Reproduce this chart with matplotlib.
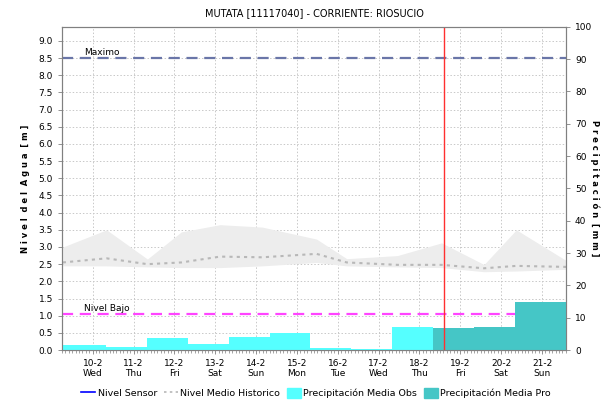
import numpy as np
import matplotlib
matplotlib.use("Agg")
import matplotlib.pyplot as plt
from matplotlib.lines import Line2D
from matplotlib.patches import Patch

# days shown on the x axis (position 0 = 10-2)
day_labels = ["10-2", "11-2", "12-2", "13-2", "14-2", "15-2", "16-2", "17-2",
              "18-2", "19-2", "20-2", "21-2"]
weekdays = ["Wed", "Thu", "Fri", "Sat", "Sun", "Mon", "Tue", "Wed", "Thu",
            "Fri", "Sat", "Sun"]

# historic band and mean level [m]
hist_x = [-0.73, 0.34, 1.34, 2.17, 3.12, 4.15, 5.48, 6.22, 7.46, 8.54, 9.58, 10.37, 11.6]
hist_max = [3.0, 3.5, 2.65, 3.44, 3.65, 3.58, 3.23, 2.66, 2.75, 3.12, 2.49, 3.5, 2.6]
hist_min = [2.45, 2.45, 2.42, 2.4, 2.4, 2.45, 2.55, 2.45, 2.42, 2.4, 2.28, 2.3, 2.35]
hist_mean = [2.55, 2.67, 2.5, 2.55, 2.72, 2.7, 2.8, 2.55, 2.48, 2.48, 2.38, 2.45, 2.42]

# daily precipitation [mm], bar edges in day units
obs_edges = [-0.73, 0.33, 1.33, 2.33, 3.33, 4.33, 5.33, 6.33, 7.33, 8.33]
obs_mm = [1.5, 0.8, 3.6, 1.8, 3.9, 5.4, 0.5, 0.4, 7.1]
pro_edges = [8.33, 9.33, 10.33, 11.6]
pro_mm = [6.7, 7.1, 15.0]

nivel_max = 8.5
nivel_bajo = 1.05
now_x = 8.59

fig = plt.figure(figsize=(6.02, 4.07), dpi=100)
ax = fig.add_axes([0.103, 0.140, 0.837, 0.794])
ax2 = ax.twinx()

ax.fill_between(hist_x, hist_min, hist_max, color="#ededed", lw=0, zorder=1)
ax.plot(hist_x, hist_mean, ls=(0, (1.5, 2)), color="#b8b8b8", lw=1.5, zorder=2)

ax.axhline(nivel_max, color="#6a76a8", ls=(0, (5, 3)), lw=1.6, zorder=3)
ax.axhline(nivel_bajo, color="#ff44ff", ls=(0, (5, 3)), lw=1.6, zorder=3)
ax.text(-0.22, nivel_max + 0.02, "Maximo", fontsize=6.5, va="bottom")
ax.text(-0.22, nivel_bajo + 0.02, "Nivel Bajo", fontsize=6.5, va="bottom")

ax2.bar(obs_edges[:-1], obs_mm, width=np.diff(obs_edges), align="edge",
        color="#55ffff", lw=0)
ax2.bar(pro_edges[:-1], pro_mm, width=np.diff(pro_edges), align="edge",
        color="#45c6c6", lw=0)
ax2.axvline(now_x, color="#ff3030", lw=1.0)

ax.set_xlim(-0.73, 11.56)
ax.set_ylim(0, 9.41)
ax2.set_ylim(0, 100)

ax.set_xticks(range(len(day_labels)))
ax.set_xticklabels([f"{d}\n{w}" for d, w in zip(day_labels, weekdays)], fontsize=6.5)
ax.set_xticks(np.arange(-0.75, 11.6, 1 / 12), minor=True)
ax.set_yticks(np.arange(0, 9.01, 0.5))
ax.set_yticklabels([f"{v:.1f}" for v in np.arange(0, 9.01, 0.5)], fontsize=6.5)
ax2.set_yticks(range(0, 101, 10))
ax2.tick_params(axis="y", labelsize=6.5, length=3, width=0.6, color="#808080")
ax.tick_params(axis="y", length=3, width=0.6, color="#808080")
ax.tick_params(axis="x", which="major", length=3, width=0.6, color="#808080")
ax.tick_params(axis="x", which="minor", length=2, width=0.5, color="#808080")

ax.grid(True, color="#c8c8c8", ls=(0, (1.5, 2)), lw=0.7)
ax.set_axisbelow(True)
for a in (ax, ax2):
    for s in a.spines.values():
        s.set_color("#808080")
        s.set_linewidth(0.8)

ax.set_ylabel("N i v e l  d e l  A g u a  [ m ]", fontsize=6, fontweight="bold", labelpad=6)
ax2.set_ylabel("P r e c i p i t a c i ó n  [ m m ]", fontsize=6, fontweight="bold",
               rotation=270, va="center")
ax2.yaxis.set_label_coords(1.058, 0.5)
ax.set_title("MUTATA [11117040] - CORRIENTE: RIOSUCIO", fontsize=7, pad=8)

handles = [Line2D([], [], color="#0000ff", lw=1.2),
           Line2D([], [], color="#b8b8b8", lw=1.2, ls=(0, (1.5, 2))),
           Patch(color="#55ffff"),
           Patch(color="#45c6c6")]
labels = ["Nivel Sensor", "Nivel Medio Historico", "Precipitación Media Obs",
          "Precipitación Media Pro"]
fig.legend(handles, labels, loc="lower center", bbox_to_anchor=(0.525, 0.0), ncol=4,
           frameon=False, fontsize=6.8, handlelength=1.5, handletextpad=0.25,
           columnspacing=0.7, handleheight=1.3)

fig.savefig("out.png", dpi=100)
